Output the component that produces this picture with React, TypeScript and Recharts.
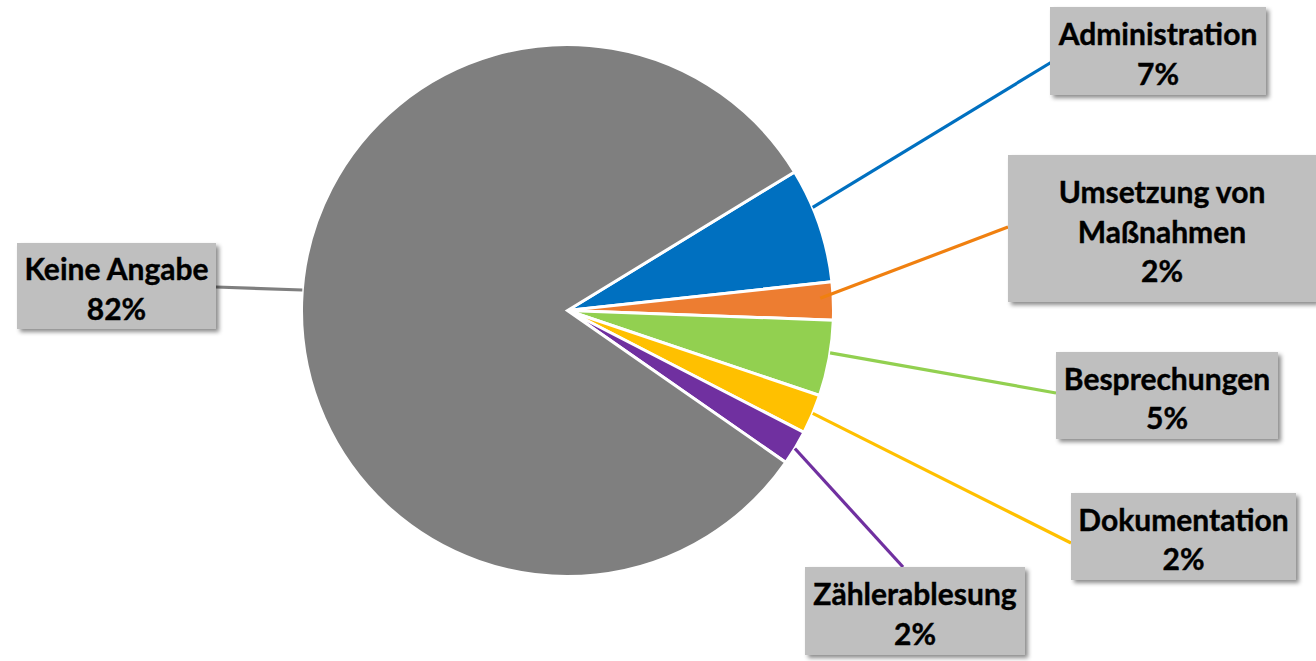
import React from 'react';
import { PieChart, Pie, Cell } from 'recharts';

const categories = ['Administration', 'Umsetzung von Maßnahmen', 'Besprechungen', 'Dokumentation', 'Zählerablesung', 'Keine Angabe'];
const shares = [7.0, 2.3, 4.6, 2.4, 2.1, 81.6];
const labelTexts = [['Administration'], ['Umsetzung von', 'Maßnahmen'], ['Besprechungen'], ['Dokumentation'], ['Zählerablesung'], ['Keine Angabe']];
const sliceColors = ['#0070C0', '#ED7D31', '#92D050', '#FFC000', '#7030A0', '#7F7F7F'];
const leaderColors = ['#0070C0', '#F08010', '#92D050', '#FFC000', '#7030A0', '#7F7F7F'];

// layout of the label boxes (x, y, w, h) and leader-line endpoints
const boxes = [
  [1050, 7, 216, 88],
  [1008, 155, 308, 147],
  [1056, 352, 222, 87],
  [1071, 493, 225, 87],
  [805, 567, 220, 88],
  [17, 243, 199, 86],
];
const leaderEnds = [
  [1055, 60],
  [1008, 227],
  [1056, 393],
  [1071, 543],
  [903, 567],
  [216, 287],
];
const leaderAngleOffset = [4, 0.7, 1.2, 0.2, -0.2, -2.7];
const leaderRadiusOffset = [0, -13, 0, 0, 0, 0];

const data = categories.map((name, i) => ({ name, value: shares[i] }));

const RADIAN = Math.PI / 180;

const renderLabel = (props: any) => {
  const { cx, cy, midAngle, outerRadius, index, value } = props;
  const ang = (midAngle + leaderAngleOffset[index]) * RADIAN;
  const r = outerRadius + leaderRadiusOffset[index];
  const sx = cx + r * Math.cos(ang);
  const sy = cy - r * Math.sin(ang);
  const [bx, by, bw, bh] = boxes[index];
  const [ex, ey] = leaderEnds[index];
  const lines = [...labelTexts[index], `${Math.round(value)}%`];
  const n = lines.length;
  const centerY = by + bh / 2 + 2;
  const lh = 39.5;
  const fid = `shadow-${index}`;
  return (
    <g key={`lbl-${index}`}>
      <defs>
        <filter id={fid} x="-10%" y="-10%" width="130%" height="140%">
          <feDropShadow dx="3" dy="3" stdDeviation="2" floodColor="#000" floodOpacity="0.45" />
        </filter>
      </defs>
      <line x1={sx} y1={sy} x2={ex} y2={ey} stroke={leaderColors[index]} strokeWidth={3.2} />
      <rect x={bx} y={by} width={bw} height={bh} fill="#BFBFBF" filter={`url(#${fid})`} />
      {lines.map((t, i) => (
        <text
          key={i}
          x={bx + bw / 2}
          y={centerY + (i - (n - 1) / 2) * lh}
          textAnchor="middle"
          dominantBaseline="central"
          fontFamily="Lato, 'Open Sans', sans-serif"
          fontWeight={700}
          fontSize={30}
          fill="#000"
          stroke="#000"
          strokeWidth={0.4}
        >
          {t}
        </text>
      ))}
    </g>
  );
};

export default function App() {
  return (
    <div style={{ position: 'absolute', left: 0, top: 0, width: 1316, height: 661, background: '#fff' }}>
      <PieChart width={1316} height={661} margin={{ top: 0, right: 0, bottom: 0, left: 0 }}>
        <Pie
          data={data}
          dataKey="value"
          nameKey="name"
          cx={567.5}
          cy={310.5}
          outerRadius={266}
          startAngle={31.4}
          endAngle={-328.6}
          stroke="#FFFFFF"
          strokeWidth={3}
          label={renderLabel}
          labelLine={false}
          isAnimationActive={false}
        >
          {data.map((d, i) => (
            <Cell key={d.name} fill={sliceColors[i]} />
          ))}
        </Pie>
      </PieChart>
    </div>
  );
}
